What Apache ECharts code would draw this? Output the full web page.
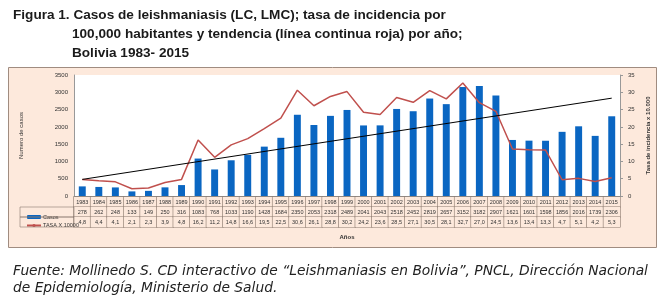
<!DOCTYPE html>
<html>
<head>
<meta charset="utf-8">
<script src="https://cdn.jsdelivr.net/npm/echarts@6/dist/echarts.min.js"></script>
<style>
html,body{margin:0;padding:0;background:#fff}
#chart{width:667px;height:307px}
</style>
</head>
<body>
<div id="chart"></div>
<script>
// datos
var anios = ['1983','1984','1985','1986','1987','1988','1989','1990','1991','1992','1993','1994','1995','1996','1997','1998','1999','2000','2001','2002','2003','2004','2005','2006','2007','2008','2009','2010','2011','2012','2013','2014','2015'];
var casos = [278,262,248,133,149,250,316,1083,768,1033,1190,1428,1684,2350,2053,2318,2489,2041,2043,2518,2452,2819,2657,3152,3182,2907,1621,1601,1598,1856,2016,1739,2306];
var tasa = [4.8,4.4,4.1,2.1,2.3,3.9,4.8,16.2,11.2,14.8,16.6,19.5,22.5,30.6,26.1,28.8,30.2,24.2,23.6,28.5,27.1,30.5,28.1,32.7,27.0,24.5,13.6,13.4,13.3,4.7,5.1,4.2,5.3];
// tendencia: extremos de la recta
var tendencia = [4.8, 28.3];

var myChart = echarts.init(document.getElementById('chart'));

var gridLeft = 74, gridRight = 47;
var cw = (667 - gridLeft - gridRight) / anios.length;
var borde = '#8c7a6e';

var tendData = anios.map(function (a, i) {
    if (i === 0) return tendencia[0];
    if (i === anios.length - 1) return tendencia[1];
    return null;
});

function celda() {
    return {
        width: cw, height: 10, lineHeight: 10, align: 'center',
        fontSize: 5.5, color: '#333',
        borderColor: borde, borderWidth: 0.6, backgroundColor: '#fde9dc'
    };
}

var fuenteTitulo = 'Liberation Sans, Arial, sans-serif';
var fuentePie = 'DejaVu Sans, sans-serif';

var option = {
    animation: false,
    backgroundColor: '#fff',
    title: [
        {text: 'Figura 1. Casos de leishmaniasis (LC, LMC); tasa de incidencia por', left: 8, top: 3,
         textStyle: {fontSize: 13.6, fontWeight: 'bold', color: '#1a1a1a', fontFamily: fuenteTitulo}},
        {text: '100,000 habitantes y tendencia (línea continua roja) por año;', left: 67, top: 22,
         textStyle: {fontSize: 13.6, fontWeight: 'bold', color: '#1a1a1a', fontFamily: fuenteTitulo}},
        {text: 'Bolivia 1983- 2015', left: 67, top: 41,
         textStyle: {fontSize: 13.6, fontWeight: 'bold', color: '#1a1a1a', fontFamily: fuenteTitulo}},
        {text: 'Fuente: Mollinedo S. CD interactivo de “Leishmaniasis en Bolivia”, PNCL, Dirección Nacional', left: 8, top: 259,
         textStyle: {fontSize: 13.8, fontWeight: 'normal', fontStyle: 'italic', color: '#222', fontFamily: fuentePie}},
        {text: 'de Epidemiología, Ministerio de Salud.', left: 8, top: 276,
         textStyle: {fontSize: 13.8, fontWeight: 'normal', fontStyle: 'italic', color: '#222', fontFamily: fuentePie}}
    ],
    graphic: [
        {type: 'rect', z: -10, shape: {x: 8.5, y: 67.5, width: 648, height: 180},
         style: {fill: '#fde9dc', stroke: '#a08c80', lineWidth: 1}},
        {type: 'rect', z: 5, shape: {x: 20, y: 207, width: gridLeft - 20, height: 10},
         style: {fill: 'none', stroke: borde, lineWidth: 0.6}},
        {type: 'rect', z: 5, shape: {x: 20, y: 217, width: gridLeft - 20, height: 10},
         style: {fill: 'none', stroke: borde, lineWidth: 0.6}}
    ],
    legend: {
        orient: 'vertical',
        left: 21, top: 209,
        itemWidth: 14, itemHeight: 4, itemGap: 2.5,
        textStyle: {fontSize: 5.5, color: '#333', padding: [0, 0, 0, -3]},
        data: ['Casos', 'TASA X 10000']
    },
    grid: {
        left: gridLeft, right: gridRight, top: 75, bottom: 111,
        show: true, backgroundColor: '#fff', borderWidth: 0
    },
    xAxis: {
        type: 'category',
        data: anios,
        name: 'Años',
        nameLocation: 'middle',
        nameGap: 38,
        nameTextStyle: {fontSize: 6, fontWeight: 'bold', color: '#333'},
        axisLine: {lineStyle: {color: '#999'}},
        axisTick: {show: false},
        axisLabel: {
            interval: 0,
            margin: 1,
            formatter: function (v, i) {
                return '{y|' + v + '}\n{c|' + casos[i] + '}\n{t|' + tasa[i].toFixed(1).replace('.', ',') + '}';
            },
            rich: {y: celda(), c: celda(), t: celda()}
        }
    },
    yAxis: [
        {
            type: 'value', min: 0, max: 3500, interval: 500,
            name: 'Numero de casos', nameLocation: 'middle', nameGap: 50, nameRotate: 90,
            nameTextStyle: {fontSize: 6, color: '#333'},
            axisLine: {show: true, lineStyle: {color: '#999'}},
            axisTick: {show: false},
            axisLabel: {fontSize: 6, color: '#333', margin: 6, formatter: function (v) { return String(v); }},
            splitLine: {show: false}
        },
        {
            type: 'value', min: 0, max: 35, interval: 5,
            name: 'Tasa de incidencia x 10.000', nameLocation: 'middle', nameGap: 21, nameRotate: 90,
            nameTextStyle: {fontSize: 6, fontWeight: 'bold', color: '#333'},
            axisLine: {show: true, lineStyle: {color: '#999'}},
            axisTick: {show: true, length: 3, lineStyle: {color: '#999'}},
            axisLabel: {fontSize: 6, color: '#333', margin: 8},
            splitLine: {show: false}
        }
    ],
    series: [
        {
            name: 'Casos', type: 'bar', data: casos,
            barWidth: '42%',
            itemStyle: {color: '#0a66c2'}
        },
        {
            name: 'TASA X 10000', type: 'line', yAxisIndex: 1, data: tasa,
            symbol: 'none',
            lineStyle: {color: '#c0504d', width: 1.5},
            itemStyle: {color: '#c0504d'}
        },
        {
            name: 'tendencia', type: 'line', yAxisIndex: 1, data: tendData,
            connectNulls: true, symbol: 'none',
            lineStyle: {color: '#000', width: 1},
            itemStyle: {color: '#000'}
        }
    ]
};

myChart.setOption(option);
</script>
</body>
</html>
